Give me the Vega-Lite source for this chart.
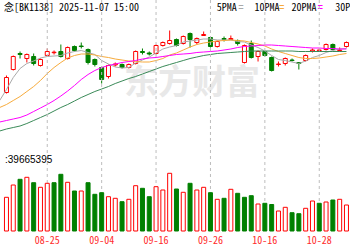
{
  "$schema": "https://vega.github.io/schema/vega-lite/v6.json",
  "width": 350,
  "height": 231,
  "autosize": {"type": "none"},
  "padding": {"left": 0, "top": 0, "right": 0, "bottom": 19},
  "background": "#ffffff",
  "config": {"view": {"stroke": null}},
  "datasets": {
    "k": [
      {"d": "08-15", "i": -6, "o": 58, "c": 73, "h": 75, "l": 57, "vol": 33.7, "rise": true},
      {"d": "08-18", "i": -5, "o": 81, "c": 94, "h": 95, "l": 80, "vol": 46, "rise": true},
      {"d": "08-19", "i": -4, "o": 97, "c": 96, "h": 99, "l": 92, "vol": 51.7, "rise": false},
      {"d": "08-20", "i": -3, "o": 92, "c": 96, "h": 97, "l": 88, "vol": 53.7, "rise": true},
      {"d": "08-21", "i": -2, "o": 94, "c": 87, "h": 97, "l": 85, "vol": 48.3, "rise": false},
      {"d": "08-22", "i": -1, "o": 85, "c": 91, "h": 92, "l": 84, "vol": 43.7, "rise": true},
      {"d": "08-25", "i": 0, "o": 95, "c": 99, "h": 102, "l": 94, "vol": 47.7, "rise": true},
      {"d": "08-26", "i": 1, "o": 97.8, "c": 98.3, "h": 100, "l": 96, "vol": 48.3, "rise": false},
      {"d": "08-27", "i": 2, "o": 99, "c": 94, "h": 106, "l": 93, "vol": 56.7, "rise": false},
      {"d": "08-28", "i": 3, "o": 92, "c": 103, "h": 104, "l": 91, "vol": 48.7, "rise": true},
      {"d": "08-29", "i": 4, "o": 104, "c": 100, "h": 105, "l": 99, "vol": 40, "rise": false},
      {"d": "09-01", "i": 5, "o": 104.5, "c": 104, "h": 108, "l": 102, "vol": 40, "rise": true},
      {"d": "09-02", "i": 6, "o": 101, "c": 88, "h": 102, "l": 86, "vol": 48.3, "rise": false},
      {"d": "09-03", "i": 7, "o": 91, "c": 86, "h": 92, "l": 84, "vol": 36.7, "rise": false},
      {"d": "09-04", "i": 8, "o": 83, "c": 71, "h": 84, "l": 67, "vol": 38.3, "rise": false},
      {"d": "09-05", "i": 9, "o": 74, "c": 85, "h": 86, "l": 72, "vol": 34.3, "rise": true},
      {"d": "09-08", "i": 10, "o": 85.5, "c": 86.5, "h": 88, "l": 84, "vol": 32.7, "rise": true},
      {"d": "09-09", "i": 11, "o": 86, "c": 83, "h": 87, "l": 82, "vol": 29.3, "rise": false},
      {"d": "09-10", "i": 12, "o": 83, "c": 86, "h": 87, "l": 82, "vol": 31.7, "rise": true},
      {"d": "09-11", "i": 13, "o": 87, "c": 99, "h": 100, "l": 86, "vol": 45.3, "rise": true},
      {"d": "09-12", "i": 14, "o": 99, "c": 98, "h": 102, "l": 96, "vol": 42.7, "rise": false},
      {"d": "09-15", "i": 15, "o": 97.5, "c": 96.5, "h": 99, "l": 95, "vol": 34.3, "rise": false},
      {"d": "09-16", "i": 16, "o": 97, "c": 105, "h": 106, "l": 96, "vol": 44.3, "rise": true},
      {"d": "09-17", "i": 17, "o": 105, "c": 108, "h": 109, "l": 104, "vol": 41, "rise": true},
      {"d": "09-18", "i": 18, "o": 107, "c": 110, "h": 120, "l": 106, "vol": 57.7, "rise": true},
      {"d": "09-19", "i": 19, "o": 111, "c": 105, "h": 112, "l": 104, "vol": 42, "rise": false},
      {"d": "09-22", "i": 20, "o": 107, "c": 114, "h": 115, "l": 106, "vol": 38.7, "rise": true},
      {"d": "09-23", "i": 21, "o": 117, "c": 111, "h": 118, "l": 103, "vol": 47.7, "rise": false},
      {"d": "09-24", "i": 22, "o": 108, "c": 112, "h": 113, "l": 106, "vol": 41, "rise": true},
      {"d": "09-25", "i": 23, "o": 115, "c": 116, "h": 119, "l": 114.5, "vol": 43.7, "rise": true},
      {"d": "09-26", "i": 24, "o": 113, "c": 104, "h": 114, "l": 103, "vol": 38.3, "rise": false},
      {"d": "09-29", "i": 25, "o": 104, "c": 109, "h": 110, "l": 103, "vol": 31.7, "rise": true},
      {"d": "09-30", "i": 26, "o": 112, "c": 111, "h": 114, "l": 109, "vol": 32.7, "rise": false},
      {"d": "10-09", "i": 27, "o": 111, "c": 112, "h": 115, "l": 110.5, "vol": 41.7, "rise": true},
      {"d": "10-10", "i": 28, "o": 110, "c": 107, "h": 111, "l": 105, "vol": 37.7, "rise": false},
      {"d": "10-13", "i": 29, "o": 88, "c": 105, "h": 106, "l": 87, "vol": 33.7, "rise": false},
      {"d": "10-14", "i": 30, "o": 107, "c": 93, "h": 110, "l": 92, "vol": 35.3, "rise": false},
      {"d": "10-15", "i": 31, "o": 94, "c": 99, "h": 100, "l": 89, "vol": 27, "rise": true},
      {"d": "10-16", "i": 32, "o": 99, "c": 95, "h": 100, "l": 94, "vol": 27.7, "rise": false},
      {"d": "10-17", "i": 33, "o": 93, "c": 80, "h": 94, "l": 79, "vol": 26.5, "rise": false},
      {"d": "10-20", "i": 34, "o": 86, "c": 86.5, "h": 89, "l": 84, "vol": 20, "rise": true},
      {"d": "10-21", "i": 35, "o": 87, "c": 92, "h": 93, "l": 85, "vol": 23.7, "rise": true},
      {"d": "10-22", "i": 36, "o": 90.5, "c": 90, "h": 92, "l": 89, "vol": 18.3, "rise": false},
      {"d": "10-23", "i": 37, "o": 88, "c": 87, "h": 88.5, "l": 81, "vol": 17.3, "rise": false},
      {"d": "10-24", "i": 38, "o": 90, "c": 95, "h": 96, "l": 89, "vol": 22.7, "rise": true},
      {"d": "10-27", "i": 39, "o": 99.5, "c": 100.5, "h": 102, "l": 98, "vol": 30, "rise": true},
      {"d": "10-28", "i": 40, "o": 100, "c": 100.5, "h": 102, "l": 99, "vol": 27.7, "rise": false},
      {"d": "10-29", "i": 41, "o": 101, "c": 106, "h": 107, "l": 100, "vol": 29, "rise": true},
      {"d": "10-30", "i": 42, "o": 106, "c": 101, "h": 107, "l": 100, "vol": 31, "rise": false},
      {"d": "10-31", "i": 43, "o": 100, "c": 100.5, "h": 103, "l": 99, "vol": 31.7, "rise": true},
      {"d": "11-03", "i": 44, "o": 104, "c": 108, "h": 109, "l": 103, "vol": 26, "rise": true}
    ],
    "lab": [
      {"i": 0, "d": "08-25"},
      {"i": 8, "d": "09-04"},
      {"i": 16, "d": "09-16"},
      {"i": 24, "d": "09-26"},
      {"i": 32, "d": "10-16"},
      {"i": 40, "d": "10-28"}
    ],
    "ma": [
      {"i": -7, "MA5": 50, "MA10": 43, "MA20": 28.5, "MA30": 19.5},
      {"i": -6, "MA5": 61, "MA10": 46, "MA20": 30, "MA30": 21.5},
      {"i": -5, "MA5": 73, "MA10": 50, "MA20": 31.5, "MA30": 23},
      {"i": -4, "MA5": 82, "MA10": 54, "MA20": 33, "MA30": 24.5},
      {"i": -3, "MA5": 87, "MA10": 59, "MA20": 35.5, "MA30": 27},
      {"i": -2, "MA5": 89.5, "MA10": 64, "MA20": 39, "MA30": 30},
      {"i": -1, "MA5": 92.5, "MA10": 70, "MA20": 42.5, "MA30": 33},
      {"i": 0, "MA5": 94, "MA10": 77, "MA20": 46, "MA30": 36},
      {"i": 1, "MA5": 94.5, "MA10": 83, "MA20": 50, "MA30": 39.5},
      {"i": 2, "MA5": 95, "MA10": 88, "MA20": 54.5, "MA30": 43},
      {"i": 3, "MA5": 97.5, "MA10": 92.5, "MA20": 59.5, "MA30": 46},
      {"i": 4, "MA5": 99, "MA10": 95, "MA20": 65, "MA30": 49.5},
      {"i": 5, "MA5": 100, "MA10": 96.5, "MA20": 71, "MA30": 53},
      {"i": 6, "MA5": 98, "MA10": 96.5, "MA20": 76, "MA30": 56},
      {"i": 7, "MA5": 96, "MA10": 95.5, "MA20": 80, "MA30": 59},
      {"i": 8, "MA5": 90, "MA10": 94, "MA20": 83, "MA30": 61.5},
      {"i": 9, "MA5": 86.5, "MA10": 93, "MA20": 85, "MA30": 64},
      {"i": 10, "MA5": 83.5, "MA10": 91.5, "MA20": 86.5, "MA30": 67},
      {"i": 11, "MA5": 82.5, "MA10": 90.5, "MA20": 88, "MA30": 69.5},
      {"i": 12, "MA5": 83, "MA10": 89.5, "MA20": 89, "MA30": 72},
      {"i": 13, "MA5": 87.5, "MA10": 89, "MA20": 90, "MA30": 74},
      {"i": 14, "MA5": 90.5, "MA10": 88.5, "MA20": 91.5, "MA30": 76.5},
      {"i": 15, "MA5": 93.5, "MA10": 88.5, "MA20": 92.5, "MA30": 79},
      {"i": 16, "MA5": 97.5, "MA10": 90, "MA20": 93, "MA30": 81.5},
      {"i": 17, "MA5": 101.5, "MA10": 92, "MA20": 94, "MA30": 84},
      {"i": 18, "MA5": 103.5, "MA10": 95.5, "MA20": 95, "MA30": 86},
      {"i": 19, "MA5": 105, "MA10": 97.5, "MA20": 96, "MA30": 88},
      {"i": 20, "MA5": 108.5, "MA10": 100.5, "MA20": 96.5, "MA30": 90},
      {"i": 21, "MA5": 109.5, "MA10": 103.5, "MA20": 97, "MA30": 92},
      {"i": 22, "MA5": 110.5, "MA10": 106, "MA20": 98, "MA30": 93.5},
      {"i": 23, "MA5": 111.5, "MA10": 107.5, "MA20": 98.5, "MA30": 95},
      {"i": 24, "MA5": 111.5, "MA10": 108.5, "MA20": 99, "MA30": 96},
      {"i": 25, "MA5": 110.5, "MA10": 109.5, "MA20": 99.5, "MA30": 97},
      {"i": 26, "MA5": 110.5, "MA10": 110, "MA20": 100.5, "MA30": 97.5},
      {"i": 27, "MA5": 110.5, "MA10": 110.5, "MA20": 101.5, "MA30": 98},
      {"i": 28, "MA5": 109, "MA10": 110, "MA20": 103, "MA30": 98.5},
      {"i": 29, "MA5": 108.5, "MA10": 109.5, "MA20": 104, "MA30": 99},
      {"i": 30, "MA5": 105.5, "MA10": 108, "MA20": 104.5, "MA30": 99.5},
      {"i": 31, "MA5": 103, "MA10": 106.5, "MA20": 105, "MA30": 99.5},
      {"i": 32, "MA5": 99.5, "MA10": 104.5, "MA20": 105.5, "MA30": 99.5},
      {"i": 33, "MA5": 95, "MA10": 101.5, "MA20": 105.5, "MA30": 99.5},
      {"i": 34, "MA5": 91, "MA10": 99, "MA20": 105, "MA30": 99.5},
      {"i": 35, "MA5": 90, "MA10": 97, "MA20": 104.5, "MA30": 99.5},
      {"i": 36, "MA5": 88.5, "MA10": 95, "MA20": 104, "MA30": 99.5},
      {"i": 37, "MA5": 87, "MA10": 93, "MA20": 103.5, "MA30": 99},
      {"i": 38, "MA5": 89.5, "MA10": 92, "MA20": 103, "MA30": 99},
      {"i": 39, "MA5": 93, "MA10": 92, "MA20": 102.5, "MA30": 99},
      {"i": 40, "MA5": 95, "MA10": 92.5, "MA20": 102.5, "MA30": 99},
      {"i": 41, "MA5": 98, "MA10": 93.5, "MA20": 102, "MA30": 99},
      {"i": 42, "MA5": 100, "MA10": 94.5, "MA20": 102, "MA30": 99},
      {"i": 43, "MA5": 101.5, "MA10": 96, "MA20": 101.5, "MA30": 99},
      {"i": 44, "MA5": 102, "MA10": 97, "MA20": 101.5, "MA30": 99}
    ]
  },
  "layer": [
    {
      "layer": [
        {
          "data": {"values": [{}]},
          "mark": {"type": "text", "align": "center", "baseline": "middle", "font": "Noto Sans CJK SC", "fontWeight": "bold", "fontSize": 34, "color": "#e8e8e8"},
          "encoding": {
            "x": {"datum": 21.3, "type": "quantitative", "scale": {"domain": [-6.2143, 43.7857], "nice": false, "zero": false}, "axis": null},
            "y": {"datum": 67, "type": "quantitative", "scale": {"domain": [-80.5, 150.5], "nice": false, "zero": false}, "axis": null},
            "text": {"value": "东方财富"}
          }
        },
        {
          "data": {"name": "k"},
          "mark": {"type": "rule", "strokeWidth": 1},
          "encoding": {
            "x": {"field": "i", "type": "quantitative", "scale": {"domain": [-6.2143, 43.7857], "nice": false, "zero": false}, "axis": null},
            "y": {"field": "l", "type": "quantitative", "scale": {"domain": [-80.5, 150.5], "nice": false, "zero": false},
                  "axis": {"values": [1, 13, 30, 47, 64, 81, 98, 115, 128], "grid": true, "labels": false, "ticks": false, "domain": false, "title": null,
                           "gridColor": {"condition": {"test": "datum.value == 1 || datum.value == 128", "value": "#bdbdbd"}, "value": "#e2e2e2"}, "gridWidth": 1}},
            "y2": {"field": "h"},
            "color": {"condition": {"test": "datum.c >= datum.o", "value": "#ff0000"}, "value": "#008000"}
          }
        },
        {
          "data": {"name": "k"},
          "mark": {"type": "bar", "strokeWidth": 1},
          "encoding": {
            "x": {"field": "i", "type": "quantitative", "scale": {"domain": [-6.2143, 43.7857], "nice": false, "zero": false}, "axis": null},
            "y": {"field": "o", "type": "quantitative", "scale": {"domain": [-80.5, 150.5], "nice": false, "zero": false}, "axis": null},
            "y2": {"field": "c"},
            "size": {"value": 4},
            "fill": {"condition": {"test": "datum.c >= datum.o", "value": "#ffffff"}, "value": "#008000"},
            "stroke": {"condition": {"test": "datum.c >= datum.o", "value": "#ff0000"}, "value": "#008000"}
          }
        },
        {
          "data": {"name": "ma"},
          "transform": [{"fold": ["MA5", "MA10", "MA20", "MA30"], "as": ["ma", "v"]}],
          "mark": {"type": "line", "strokeWidth": 1, "clip": true},
          "encoding": {
            "x": {"field": "i", "type": "quantitative", "scale": {"domain": [-6.2143, 43.7857], "nice": false, "zero": false}, "axis": null},
            "y": {"field": "v", "type": "quantitative", "scale": {"domain": [-80.5, 150.5], "nice": false, "zero": false}, "axis": null},
            "color": {"field": "ma", "type": "nominal", "scale": {"domain": ["MA5", "MA10", "MA20", "MA30"], "range": ["#aaaaaa", "#f7ab3c", "#ff00ff", "#3a8a58"]}, "legend": null}
          }
        },
        {
          "data": {"values": [{}]},
          "mark": {"type": "text", "align": "left", "baseline": "middle", "font": "Noto Sans Mono CJK SC", "fontSize": 10, "color": "#000000"},
          "encoding": {
            "x": {"datum": -6.357, "type": "quantitative", "scale": {"domain": [-6.2143, 43.7857], "nice": false, "zero": false}, "axis": null},
            "y": {"datum": 143, "type": "quantitative", "scale": {"domain": [-80.5, 150.5], "nice": false, "zero": false}, "axis": null},
            "text": {"value": "念[BK1138] 2025-11-07 15:00"}
          }
        },
        {
          "data": {"values": [{}]},
          "mark": {"type": "text", "align": "left", "baseline": "middle", "font": "Noto Sans Mono CJK SC", "fontSize": 10, "color": "#000000"},
          "encoding": {
            "x": {"datum": 24.93, "type": "quantitative", "scale": {"domain": [-6.2143, 43.7857], "nice": false, "zero": false}, "axis": null},
            "y": {"datum": 143, "type": "quantitative", "scale": {"domain": [-80.5, 150.5], "nice": false, "zero": false}, "axis": null},
            "text": {"value": "5PMA"}
          }
        },
        {
          "data": {"values": [{}]},
          "mark": {"type": "text", "align": "center", "baseline": "middle", "font": "Noto Sans Mono CJK SC", "fontSize": 10, "fontWeight": "bold", "color": "#aaaaaa"},
          "encoding": {
            "x": {"datum": 28.5, "type": "quantitative", "scale": {"domain": [-6.2143, 43.7857], "nice": false, "zero": false}, "axis": null},
            "y": {"datum": 143, "type": "quantitative", "scale": {"domain": [-80.5, 150.5], "nice": false, "zero": false}, "axis": null},
            "text": {"value": "="}
          }
        },
        {
          "data": {"values": [{}]},
          "mark": {"type": "text", "align": "left", "baseline": "middle", "font": "Noto Sans Mono CJK SC", "fontSize": 10, "color": "#000000"},
          "encoding": {
            "x": {"datum": 30.46, "type": "quantitative", "scale": {"domain": [-6.2143, 43.7857], "nice": false, "zero": false}, "axis": null},
            "y": {"datum": 143, "type": "quantitative", "scale": {"domain": [-80.5, 150.5], "nice": false, "zero": false}, "axis": null},
            "text": {"value": "10PMA"}
          }
        },
        {
          "data": {"values": [{}]},
          "mark": {"type": "text", "align": "center", "baseline": "middle", "font": "Noto Sans Mono CJK SC", "fontSize": 10, "fontWeight": "bold", "color": "#f7ab3c"},
          "encoding": {
            "x": {"datum": 34.5, "type": "quantitative", "scale": {"domain": [-6.2143, 43.7857], "nice": false, "zero": false}, "axis": null},
            "y": {"datum": 143, "type": "quantitative", "scale": {"domain": [-80.5, 150.5], "nice": false, "zero": false}, "axis": null},
            "text": {"value": "="}
          }
        },
        {
          "data": {"values": [{}]},
          "mark": {"type": "text", "align": "left", "baseline": "middle", "font": "Noto Sans Mono CJK SC", "fontSize": 10, "color": "#000000"},
          "encoding": {
            "x": {"datum": 35.93, "type": "quantitative", "scale": {"domain": [-6.2143, 43.7857], "nice": false, "zero": false}, "axis": null},
            "y": {"datum": 143, "type": "quantitative", "scale": {"domain": [-80.5, 150.5], "nice": false, "zero": false}, "axis": null},
            "text": {"value": "20PMA"}
          }
        },
        {
          "data": {"values": [{}]},
          "mark": {"type": "text", "align": "center", "baseline": "middle", "font": "Noto Sans Mono CJK SC", "fontSize": 10, "fontWeight": "bold", "color": "#ff00ff"},
          "encoding": {
            "x": {"datum": 40.14, "type": "quantitative", "scale": {"domain": [-6.2143, 43.7857], "nice": false, "zero": false}, "axis": null},
            "y": {"datum": 143, "type": "quantitative", "scale": {"domain": [-80.5, 150.5], "nice": false, "zero": false}, "axis": null},
            "text": {"value": "="}
          }
        },
        {
          "data": {"values": [{}]},
          "mark": {"type": "text", "align": "left", "baseline": "middle", "font": "Noto Sans Mono CJK SC", "fontSize": 10, "color": "#000000"},
          "encoding": {
            "x": {"datum": 42.36, "type": "quantitative", "scale": {"domain": [-6.2143, 43.7857], "nice": false, "zero": false}, "axis": null},
            "y": {"datum": 143, "type": "quantitative", "scale": {"domain": [-80.5, 150.5], "nice": false, "zero": false}, "axis": null},
            "text": {"value": "30PMA"}
          }
        }
      ]
    },
    {
      "layer": [
        {
          "data": {"name": "lab"},
          "mark": {"type": "rule", "color": "#bdbdbd", "strokeWidth": 1, "strokeDash": [3, 3]},
          "encoding": {
            "x": {"field": "i", "type": "quantitative", "scale": {"domain": [-6.2143, 43.7857], "nice": false, "zero": false}, "axis": null}
          }
        },
        {
          "data": {"name": "k"},
          "mark": {"type": "bar", "strokeWidth": 1},
          "encoding": {
            "x": {"field": "i", "type": "quantitative", "scale": {"domain": [-6.2143, 43.7857], "nice": false, "zero": false}, "axis": null},
            "y": {"field": "vol", "type": "quantitative", "scale": {"domain": [0, 231], "nice": false},
                  "axis": {"values": [0.5, 14.5, 29.5, 45.5, 61.5], "grid": true, "labels": false, "ticks": false, "domain": false, "title": null,
                           "gridColor": {"condition": {"test": "datum.value == 61.5 || datum.value == 0.5", "value": "#cfcfcf"}, "value": "#e2e2e2"}, "gridWidth": 1}},
            "size": {"value": 4},
            "fill": {"condition": {"test": "datum.rise", "value": "#ffffff"}, "value": "#008000"},
            "stroke": {"condition": {"test": "datum.rise", "value": "#ff0000"}, "value": "#008000"}
          }
        },
        {
          "data": {"name": "lab"},
          "mark": {"type": "text", "align": "center", "baseline": "middle", "font": "Noto Sans Mono CJK SC", "fontSize": 10, "color": "#ff2a2a"},
          "encoding": {
            "x": {"field": "i", "type": "quantitative", "scale": {"domain": [-6.2143, 43.7857], "nice": false, "zero": false}, "axis": null},
            "y": {"datum": -9.5, "type": "quantitative", "scale": {"domain": [0, 231], "nice": false}, "axis": null},
            "text": {"field": "d"}
          }
        },
        {
          "data": {"values": [{}]},
          "mark": {"type": "text", "align": "left", "baseline": "middle", "font": "Liberation Sans", "fontSize": 10, "color": "#000000"},
          "encoding": {
            "x": {"datum": -6.2143, "type": "quantitative", "scale": {"domain": [-6.2143, 43.7857], "nice": false, "zero": false}, "axis": null},
            "y": {"datum": 71, "type": "quantitative", "scale": {"domain": [0, 231], "nice": false}, "axis": null},
            "text": {"value": ":39665395"}
          }
        }
      ]
    }
  ],
  "resolve": {"scale": {"y": "independent"}}
}
